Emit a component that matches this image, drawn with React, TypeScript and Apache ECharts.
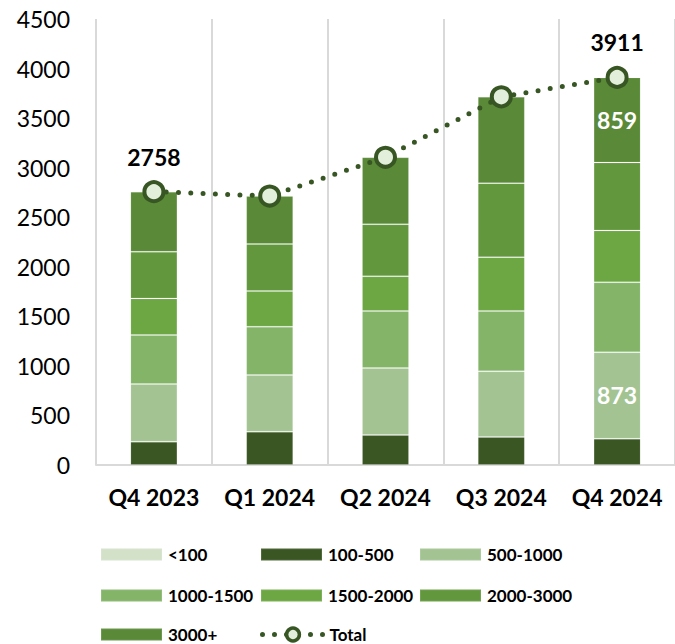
import React, { useEffect, useRef } from "react";
import * as echarts from "echarts";

const categories = ["Q4 2023", "Q1 2024", "Q2 2024", "Q3 2024", "Q4 2024"];
const seriesNames = ["<100", "100-500", "500-1000", "1000-1500", "1500-2000", "2000-3000", "3000+"];
const under100 = [0, 0, 0, 0, 0];
const s100to500 = [235, 336, 303, 283, 265];
const s500to1000 = [582, 572, 676, 663, 873];
const s1000to1500 = [494, 488, 575, 609, 705];
const s1500to2000 = [370, 360, 350, 542, 524];
const s2000to3000 = [470, 474, 525, 747, 685];
const s3000plus = [607, 484, 676, 871, 859];
const totals = [2758, 2714, 3105, 3715, 3911];
const yTicks = [0, 500, 1000, 1500, 2000, 2500, 3000, 3500, 4000, 4500];

const colors = ["#d3e1c9", "#3a5622", "#a3c492", "#83b468", "#6ca743", "#62973e", "#5a8a38"];
const FONT = "Lato";

export default function App() {
  const ref = useRef<HTMLDivElement>(null);
  useEffect(() => {
    document.body.style.margin = "0";
    const chart = echarts.init(ref.current!, null, { renderer: "svg" });
    const barData = [under100, s100to500, s500to1000, s1000to1500, s1500to2000, s2000to3000, s3000plus];
    const labelIdx: Record<number, number> = { 2: 4, 6: 4 };
    const barSeries = seriesNames.map((name, i) => ({
      name,
      type: "bar",
      stack: "total",
      barWidth: 47,
      itemStyle: { color: colors[i], borderColor: "rgba(255,255,255,0.12)", borderWidth: 1 },
      data: barData[i].map((v, j) =>
        labelIdx[i] === j
          ? {
              value: v,
              label: {
                show: true,
                position: "inside",
                color: "#ffffff",
                fontFamily: FONT,
                fontWeight: "bold",
                fontSize: 23,
              },
            }
          : v
      ),
    }));
    const legendPos = [
      [100, 554],
      [260, 554],
      [419, 554],
      [100, 595],
      [260, 595],
      [419, 595],
      [100, 634],
      [260, 634],
    ];
    const allNames = [...seriesNames, "Total"];
    const legends = allNames.map((n, i) => ({
      data: [n],
      left: legendPos[i][0],
      top: legendPos[i][1] - 8,
      itemWidth: 61,
      itemHeight: n === "Total" ? 16 : 12,
      itemGap: 0,
      padding: 0,
      textStyle: {
        fontFamily: FONT,
        fontWeight: "bold",
        fontSize: 17,
        lineHeight: 16,
        color: "#000",
        padding: [0, 0, 0, 1],
      },
      ...(n === "Total"
        ? {
            lineStyle: { width: 5, type: [0, 12], cap: "round", color: "#375623" },
            itemStyle: { color: "#e2efda", borderColor: "#375623", borderWidth: 3.5 },
          }
        : { icon: "rect" }),
    }));
    chart.setOption({
      animation: false,
      grid: { left: 96, right: -10, top: 19, bottom: 179 },
      legend: legends,
      xAxis: {
        type: "category",
        data: categories,
        axisLine: { lineStyle: { color: "#d9d9d9", width: 2 } },
        axisTick: { show: false },
        splitLine: { show: true, interval: 0, lineStyle: { color: "#d9d9d9", width: 2 } },
        axisLabel: { interval: 0, fontFamily: FONT, fontWeight: "bold", fontSize: 23, color: "#000", margin: 20 },
      },
      yAxis: {
        type: "value",
        min: yTicks[0],
        max: yTicks[yTicks.length - 1],
        interval: 500,
        axisLine: { show: false },
        axisTick: { show: false },
        splitLine: { show: false },
        axisLabel: {
          fontFamily: FONT,
          fontSize: 23,
          color: "#000",
          margin: 26,
          formatter: (v: number) => String(v),
        },
      },
      series: [
        ...barSeries,
        {
          name: "Total",
          type: "line",
          z: 10,
          symbol: "circle",
          symbolSize: 19,
          lineStyle: { color: "#375623", width: 5, type: [0, 12.3], cap: "round" },
          itemStyle: { color: "#e2efda", borderColor: "#375623", borderWidth: 4 },
          data: totals.map((v, j) =>
            j === 0 || j === totals.length - 1
              ? {
                  value: v,
                  label: {
                    show: true,
                    position: "top",
                    distance: 12,
                    color: "#000",
                    fontFamily: FONT,
                    fontWeight: "bold",
                    fontSize: 23,
                  },
                }
              : v
          ),
        },
      ],
    });
    return () => chart.dispose();
  }, []);
  return <div ref={ref} style={{ width: 675, height: 644 }} />;
}
